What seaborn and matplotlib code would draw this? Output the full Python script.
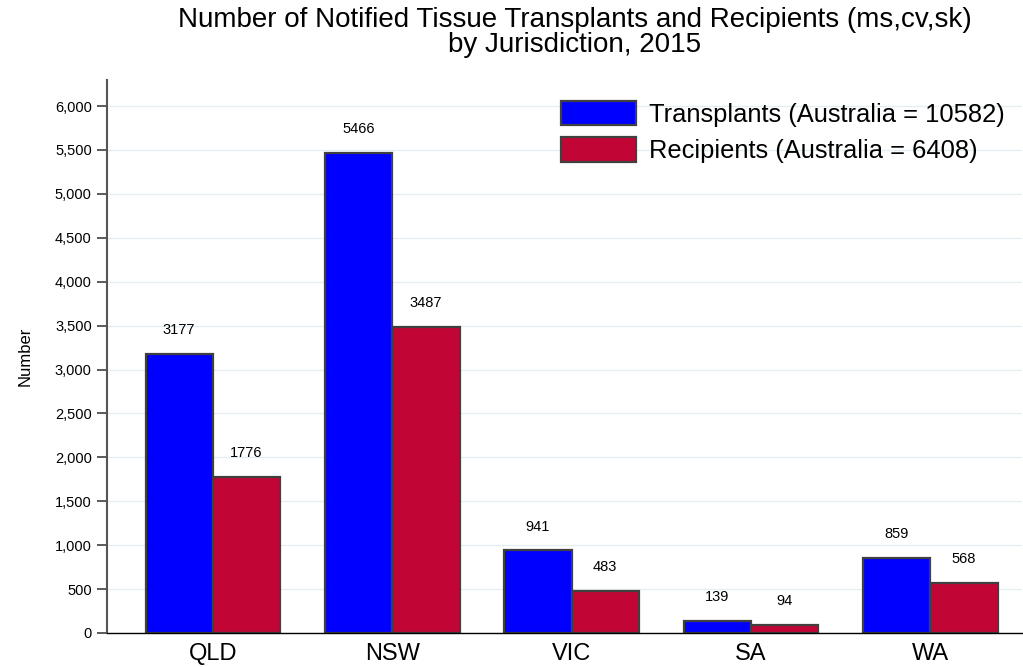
import matplotlib
matplotlib.use("Agg")
import matplotlib.pyplot as plt
import seaborn as sns
import pandas as pd

jurisdictions = ["QLD", "NSW", "VIC", "SA", "WA"]
transplants = [3177, 5466, 941, 139, 859]
recipients = [1776, 3487, 483, 94, 568]
series_names = ["Transplants (Australia = 10582)", "Recipients (Australia = 6408)"]
y_ticks = list(range(0, 6001, 500))

df = pd.DataFrame({
    "Jurisdiction": jurisdictions * 2,
    "Series": [series_names[0]] * 5 + [series_names[1]] * 5,
    "Number": transplants + recipients,
})

sns.set_style("white", rc={"text.color": "black", "axes.labelcolor": "black",
                           "xtick.color": "black", "ytick.color": "black"})
plt.rcParams["font.family"] = ["Liberation Sans", "DejaVu Sans"]

fig = plt.figure(figsize=(10.23, 6.67), dpi=100)
ax = fig.add_axes([0.1046, 0.051, 0.8944, 0.829])

sns.barplot(data=df, x="Jurisdiction", y="Number", hue="Series",
            palette=["#0000ff", "#c10534"], width=0.75, ax=ax,
            edgecolor="#404040", linewidth=1.6, saturation=1)

# value labels above each bar
for container in ax.containers:
    for bar in container:
        h = bar.get_height()
        ax.annotate(f"{int(h)}", (bar.get_x() + bar.get_width() / 2, h),
                    xytext=(0, 12), textcoords="offset points",
                    ha="center", va="bottom", fontsize=10.5)

ax.set_ylim(0, 6296)
ax.set_xlim(-0.59, 4.51)
ax.set_yticks(y_ticks)
ax.set_yticklabels([f"{v:,}" for v in y_ticks], fontsize=10.5)
ax.yaxis.grid(True, color="#e4eef0", linewidth=0.9)
ax.set_axisbelow(True)
ax.tick_params(axis="y", direction="out", length=7, width=1.2, color="#404040", pad=4, left=True)
ax.tick_params(axis="x", length=0, labelsize=17, pad=7)
ax.set_xlabel("")
ax.set_ylabel("Number", fontsize=12, labelpad=16)

for s in ["top", "right"]:
    ax.spines[s].set_visible(False)
ax.spines["left"].set_color("#555555")
ax.spines["left"].set_linewidth(1.5)
ax.spines["bottom"].set_color("black")
ax.spines["bottom"].set_linewidth(1.0)

ax.legend(loc="upper right", bbox_to_anchor=(0.998, 0.99), frameon=False,
          fontsize=18.4, handlelength=2.95, handleheight=1.1,
          labelspacing=0.4, handletextpad=0.5, borderaxespad=0.2)

fig.text(0.562, 0.99, "Number of Notified Tissue Transplants and Recipients (ms,cv,sk)\nby Jurisdiction, 2015",
         ha="center", va="top", fontsize=20, linespacing=0.97)

fig.savefig("out.png", dpi=100)
